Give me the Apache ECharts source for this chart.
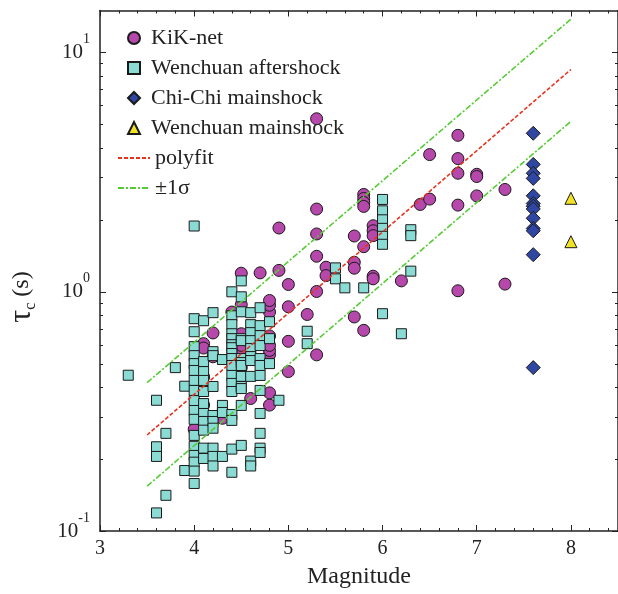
<!DOCTYPE html>
<html>
<head>
<meta charset="utf-8">
<script src="https://cdn.jsdelivr.net/npm/echarts@6/dist/echarts.min.js"></script>
<style>
html, body { margin: 0; padding: 0; background: #fff; }
#chart { width: 618px; height: 594px; }
</style>
</head>
<body>
<div id="chart"></div>
<script>
// [magnitude, tau_c (s)]
const kiknet = [
  [4.0,0.266],[4.1,0.336],[4.1,0.441],[4.1,0.607],[4.1,0.582],[4.2,0.535],[4.2,0.673],[4.3,0.296],
  [4.4,0.823],[4.5,0.482],[4.5,0.569],[4.5,0.597],[4.5,0.668],[4.5,0.883],[4.5,1.196],[4.6,0.358],
  [4.7,1.20],[4.8,0.336],[4.8,0.378],[4.8,0.546],[4.8,0.569],[4.8,0.597],[4.8,0.654],[4.8,0.823],
  [4.8,0.879],[4.8,0.920],[4.9,1.229],[4.9,1.848],[5.0,0.464],[5.0,0.621],[5.0,0.866],[5.0,1.073],
  [5.2,0.804],[5.3,0.545],[5.3,1.003],[5.3,1.408],[5.3,1.745],[5.3,2.218],[5.3,5.29],[5.4,1.267],
  [5.4,1.169],[5.7,0.785],[5.7,1.329],[5.7,1.255],[5.7,1.711],[5.8,0.690],[5.8,1.544],[5.8,2.553],
  [5.8,2.456],[5.8,2.364],[5.8,2.275],[5.9,1.162],[5.9,1.133],[5.9,1.889],[5.9,1.800],[5.9,1.717],
  [6.2,1.111],[6.4,2.319],[6.5,2.441],[6.5,3.747],[6.8,1.01],[6.8,2.304],[6.8,3.131],[6.8,3.606],
  [6.8,4.51],[7.0,2.518],[7.0,3.10],[7.0,3.034],[7.3,1.077],[7.3,2.678]
];
const wenchuanAfter = [
  [3.3,0.448],[3.6,0.352],[3.6,0.225],[3.6,0.205],[3.6,0.119],[3.7,0.256],[3.7,0.141],[3.8,0.482],
  [3.9,0.403],[3.9,0.179],
  [4.0,1.884],[4.0,0.772],[4.0,0.681],[4.0,0.590],[4.0,0.541],[4.0,0.501],[4.0,0.469],[4.0,0.426],
  [4.0,0.387],[4.0,0.351],[4.0,0.319],[4.0,0.293],[4.0,0.251],[4.0,0.226],[4.0,0.207],[4.0,0.194],
  [4.0,0.178],[4.0,0.158],
  [4.1,0.757],[4.1,0.511],[4.1,0.464],[4.1,0.426],[4.1,0.383],[4.1,0.341],[4.1,0.310],[4.1,0.287],
  [4.1,0.264],[4.1,0.222],[4.1,0.201],
  [4.2,0.818],[4.2,0.562],[4.2,0.541],[4.2,0.402],[4.2,0.304],[4.2,0.287],[4.2,0.269],[4.2,0.222],
  [4.2,0.205],[4.2,0.187],
  [4.3,0.521],[4.3,0.335],[4.3,0.313],[4.3,0.205],
  [4.4,1.0],[4.4,0.794],[4.4,0.729],[4.4,0.668],[4.4,0.637],[4.4,0.601],[4.4,0.584],[4.4,0.552],
  [4.4,0.526],[4.4,0.492],[4.4,0.447],[4.4,0.414],[4.4,0.383],[4.4,0.307],[4.4,0.290],[4.4,0.220],
  [4.4,0.176],
  [4.5,1.111],[4.5,0.953],[4.5,0.825],[4.5,0.637],[4.5,0.625],[4.5,0.526],[4.5,0.506],[4.5,0.492],
  [4.5,0.443],[4.5,0.402],[4.5,0.394],[4.5,0.335],[4.5,0.228],
  [4.6,0.818],[4.6,0.729],[4.6,0.675],[4.6,0.625],[4.6,0.579],[4.6,0.536],[4.6,0.516],[4.6,0.443],
  [4.6,0.196],[4.6,0.187],
  [4.7,0.858],[4.7,0.722],[4.7,0.656],[4.7,0.596],[4.7,0.526],[4.7,0.492],[4.7,0.447],[4.7,0.387],
  [4.7,0.310],[4.7,0.256],[4.7,0.222],[4.7,0.213],
  [4.8,0.750],[4.8,0.637],[4.8,0.501],[4.9,0.352],
  [5.2,0.684],[5.2,0.607],[5.5,1.259],[5.5,1.133],[5.6,1.039],[5.8,1.039],
  [6.0,2.433],[6.0,2.181],[6.0,2.0],[6.0,1.842],[6.0,1.706],[6.0,1.580],[6.0,0.810],
  [6.2,0.668],[6.3,1.818],[6.3,1.717],[6.3,1.220]
];
const chichiMain = [
  [7.6,4.60],[7.6,3.41],[7.6,3.13],[7.6,2.98],[7.6,2.52],[7.6,2.34],[7.6,2.28],[7.6,2.22],
  [7.6,2.03],[7.6,1.84],[7.6,1.80],[7.6,1.43],[7.6,0.482]
];
const wenchuanMain = [[8.0,2.46],[8.0,1.62]];
const polyfit = [[3.5,0.252],[8.0,8.5]];
const sigmaUpper = [[3.5,0.417],[8.0,13.8]];
const sigmaLower = [[3.5,0.154],[8.0,5.16]];

const xMajorTicks = [3,4,5,6,7,8];
const xMinorTicks = [3.2,3.4,3.6,3.8,4.2,4.4,4.6,4.8,5.2,5.4,5.6,5.8,6.2,6.4,6.6,6.8,7.2,7.4,7.6,7.8,8.2,8.4];
const yMajorTicks = [0.1,1,10];
const yMinorTicks = [0.2,0.3,0.4,0.5,0.6,0.7,0.8,0.9,2,3,4,5,6,7,8,9];
const markerNames = ['KiK-net', 'Wenchuan aftershock', 'Chi-Chi mainshock', 'Wenchuan mainshock'];
const lineNames = ['polyfit', '±1σ'];

const font = 'Liberation Serif';
const ink = '#222';
const green = '#55cc33';
const red = '#e8321e';

function xAxisOf(pos, ticks, len, withLabel, withLine) {
  return {
    type: 'value', position: pos, min: 3, max: 8.5, interval: 1,
    axisLine: { show: withLine, onZero: false, lineStyle: { color: ink, width: 1.5 } },
    axisTick: { show: true, inside: true, length: len, customValues: ticks, lineStyle: { color: ink, width: 1 } },
    axisLabel: withLabel
      ? { show: true, customValues: xMajorTicks, margin: 8, fontFamily: font, fontSize: 20, color: ink }
      : { show: false },
    splitLine: { show: false }
  };
}
function yAxisOf(pos, ticks, len, withLabel, withLine) {
  return {
    type: 'log', logBase: 10, position: pos, min: 0.1, max: 15,
    axisLine: { show: withLine, onZero: false, lineStyle: { color: ink, width: 1.5 } },
    axisTick: { show: true, inside: true, length: len, customValues: ticks, lineStyle: { color: ink, width: 1 } },
    axisLabel: withLabel ? {
      show: true, customValues: yMajorTicks, margin: 10,
      formatter: v => '{b|10}{s|' + Math.round(Math.log10(v)) + '}',
      rich: {
        b: { fontFamily: font, fontSize: 21, color: ink, lineHeight: 40 },
        s: { fontFamily: font, fontSize: 14, color: ink, lineHeight: 17, verticalAlign: 'top' }
      }
    } : { show: false },
    splitLine: { show: false }
  };
}

const scatter = (name, data, symbol, size, color) => ({
  name, type: 'scatter', data, symbol, symbolSize: size,
  itemStyle: { color, borderColor: '#1a1a1a', borderWidth: 1, opacity: 1 }
});
const fitLine = (name, data, color, dash) => ({
  name, type: 'line', data, symbol: 'none', silent: true,
  itemStyle: { color },
  lineStyle: { color, width: 1.6, type: dash }
});

const legendText = { fontFamily: font, fontSize: 22, color: ink, lineHeight: 22 };

const chart = echarts.init(document.getElementById('chart'));
chart.setOption({
  animation: false,
  backgroundColor: '#fff',
  grid: { left: 100, top: 10.5, width: 521, height: 522.5 },
  xAxis: [
    Object.assign(xAxisOf('bottom', xMajorTicks, 6, true, true), {
      name: 'Magnitude', nameLocation: 'middle', nameGap: 34,
      nameTextStyle: { fontFamily: font, fontSize: 24, color: ink }
    }),
    xAxisOf('bottom', xMinorTicks, 3, false, false),
    xAxisOf('top', xMajorTicks, 6, false, true),
    xAxisOf('top', xMinorTicks, 3, false, false)
  ],
  yAxis: [
    yAxisOf('left', yMajorTicks, 6, true, true),
    yAxisOf('left', yMinorTicks, 3, false, false),
    yAxisOf('right', yMajorTicks, 6, false, true),
    yAxisOf('right', yMinorTicks, 3, false, false)
  ],
  legend: [{
    orient: 'vertical', left: 122, top: 22,
    itemWidth: 12, itemHeight: 12, itemGap: 8,
    selectedMode: false,
    textStyle: Object.assign({ padding: [0, 0, 0, 6] }, legendText),
    data: markerNames
  }, {
    orient: 'vertical', left: 112, top: 142,
    itemWidth: 32, itemHeight: 12, itemGap: 8,
    selectedMode: false,
    textStyle: legendText,
    data: lineNames.map(name => ({ name, itemStyle: { color: 'rgba(0,0,0,0)', borderWidth: 0, opacity: 0 } }))
  }],
  graphic: [{
    type: 'text', x: 22, y: 297, rotation: Math.PI / 2,
    style: {
      text: '{t|τ}{c|c}{n| (s)}',
      align: 'center', verticalAlign: 'middle', fill: ink,
      rich: {
        t: { fontFamily: font, fontSize: 32, lineHeight: 34, fill: ink },
        c: { fontFamily: font, fontSize: 16, lineHeight: 16, verticalAlign: 'bottom', fill: ink },
        n: { fontFamily: font, fontSize: 24, lineHeight: 34, fill: ink }
      }
    }
  }],
  series: [
    fitLine('±1σ', sigmaUpper, green, [6, 2, 2, 2]),
    fitLine('±1σ', sigmaLower, green, [6, 2, 2, 2]),
    fitLine('polyfit', polyfit, red, [4, 2]),
    scatter('KiK-net', kiknet, 'circle', 12, '#b748ab'),
    scatter('Wenchuan aftershock', wenchuanAfter, 'rect', 10, '#8adbd3'),
    scatter('Chi-Chi mainshock', chichiMain, 'diamond', 14, '#2f47a2'),
    scatter('Wenchuan mainshock', wenchuanMain, 'triangle', 12, '#f0e224')
  ]
});
</script>
</body>
</html>
